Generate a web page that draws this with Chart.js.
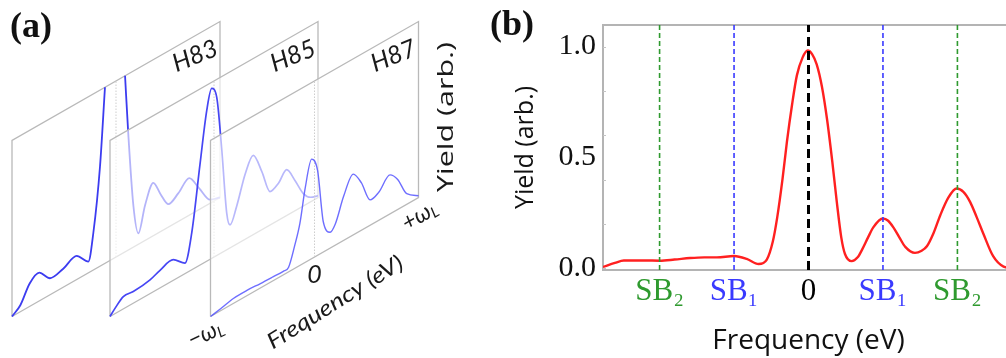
<!DOCTYPE html>
<html>
<head>
<meta charset="utf-8">
<script src="https://cdn.jsdelivr.net/npm/chart.js@4.4.1/dist/chart.umd.min.js"></script>
<style>
  html, body { margin: 0; padding: 0; background: #fff; width: 1006px; height: 358px; overflow: hidden; }
  .panel { position: absolute; top: 0; }
  .tag { position: absolute; font: bold 36px "Liberation Serif", serif; line-height: 1; color: #111; }
</style>
</head>
<body>
<div class="panel" style="left:0"><canvas id="chartA" width="470" height="358"></canvas></div>
<div class="panel" style="left:490px"><canvas id="chartB" width="530" height="358"></canvas></div>
<div class="tag" style="left:10px;top:7px">(a)</div>
<div class="tag" style="left:490px;top:5px">(b)</div>
<script>
// ---- panel (a): one spectrum per harmonic, u = frequency (-wL..+wL), v = yield (0..1 of plane height)
const harmonics = ['H83', 'H85', 'H87'];
const uH83 = [-1, -0.92, -0.83, -0.737, -0.635, -0.507, -0.378, -0.266, -0.218, -0.154, -0.106, 0, 0.087, 0.118, 0.167, 0.215, 0.279, 0.359, 0.43, 0.503, 0.6, 0.705, 0.8, 0.904, 1];
const vH83 = [0, 0.037, 0.13, 0.16, 0.094, 0.105, 0.134, 0.064, 0.21, 0.565, 1.0, null, 1.0, 0.66, 0.236, 0.062, 0.199, 0.30, 0.21, 0.13, 0.16, 0.21, 0.12, 0.02, 0];
const uH85 = [-1, -0.952, -0.872, -0.776, -0.615, -0.519, -0.391, -0.279, -0.214, -0.135, -0.07, -0.022, 0.026, 0.074, 0.122, 0.154, 0.218, 0.30, 0.378, 0.46, 0.538, 0.62, 0.699, 0.78, 0.859, 0.93, 1];
const vH85 = [0, 0.03, 0.07, 0.066, 0.078, 0.10, 0.117, 0.06, 0.21, 0.57, 0.855, 0.965, 0.9, 0.59, 0.21, 0.13, 0.215, 0.37, 0.45, 0.33, 0.19, 0.21, 0.26, 0.17, 0.07, 0.025, 0.01];
const uH87 = [-1, -0.9, -0.78, -0.65, -0.52, -0.40, -0.30, -0.25, -0.19, -0.14, -0.09, -0.027, 0.03, 0.085, 0.15, 0.2, 0.28, 0.373, 0.45, 0.534, 0.62, 0.726, 0.8, 0.887, 1];
const vH87 = [0, 0.012, 0.028, 0.03, 0.025, 0.022, 0.02, 0.025, 0.13, 0.24, 0.42, 0.565, 0.48, 0.17, 0.09, 0.12, 0.25, 0.345, 0.27, 0.144, 0.16, 0.221, 0.17, 0.06, 0.01];
const planeU = [uH83, uH85, uH87];
const planeV = [vH83, vH85, vH87];

// ---- panel (b): sideband spectrum
const freq = [-2.76, -2.6, -2.48, -2.2, -2.0, -1.8, -1.59, -1.4, -1.23, -1.0, -0.83, -0.67, -0.56, -0.48, -0.42, -0.35, -0.29, -0.22, -0.156, -0.08, -0.01, 0.05, 0.11, 0.18, 0.25, 0.32, 0.38, 0.44, 0.49, 0.58, 0.66, 0.72, 0.8, 0.87, 1.0, 1.07, 1.14, 1.22, 1.30, 1.43, 1.52, 1.59, 1.68, 1.77, 1.88, 1.99, 2.08, 2.17, 2.26, 2.35, 2.48, 2.62, 2.76];
const yieldB = [0.007, 0.025, 0.036, 0.036, 0.035, 0.04, 0.047, 0.05, 0.05, 0.056, 0.043, 0.02, 0.04, 0.12, 0.23, 0.40, 0.57, 0.74, 0.87, 0.95, 0.982, 0.965, 0.92, 0.82, 0.67, 0.48, 0.30, 0.14, 0.065, 0.033, 0.05, 0.085, 0.14, 0.185, 0.225, 0.215, 0.185, 0.14, 0.097, 0.07, 0.08, 0.10, 0.16, 0.24, 0.32, 0.36, 0.345, 0.30, 0.23, 0.155, 0.055, 0.008, 0.0];
const sbPos = [-2, -1, 0, 1, 2];
const sbLabels = ['SB₂', 'SB₁', '0', 'SB₁', 'SB₂'];
const sbColors = ['#2f9a2f', '#3a3aff', '#000000', '#3a3aff', '#2f9a2f'];
const yTicks = [0, 0.5, 1.0];
const yMinor = [0, 0.2, 0.4, 0.6, 0.8, 1.0];

// oblique projection of the planes in panel (a)
const PLANE_X = [12, 110, 210.5];
const HALF_W = 104, HALF_RISE = 59.5, PLANE_H = 176, BASE_Y = 316.5;
function proj(k, u, v) {
  return { x: PLANE_X[k] + (u + 1) * HALF_W, y: BASE_Y - (u + 1) * HALF_RISE - v * PLANE_H };
}

const curveStyle = [
  { color: '#3c3cf0', width: 1.8 },
  { color: '#4646f4', width: 1.7 },
  { color: 'rgba(85,85,255,0.85)', width: 1.4 }
];

function planeDatasets() {
  const sets = [];
  harmonics.forEach((h, k) => {
    const base = 10 - 3 * k;
    sets.push({
      data: [[-1, 0], [1, 0], [1, 1], [-1, 1], [-1, 0]].map(([u, v]) => proj(k, u, v)),
      showLine: true, pointRadius: 0, tension: 0,
      borderColor: '#b9b9b9', borderWidth: 1.3,
      fill: 'shape', backgroundColor: 'rgba(255,255,255,0.62)',
      order: base
    });
    sets.push({
      data: [proj(k, 0, 0), proj(k, 0, 1)],
      showLine: true, pointRadius: 0,
      borderColor: '#cdcdcd', borderWidth: 1, borderDash: [1.5, 1.5],
      order: base - 1
    });
    sets.push({
      data: planeU[k].map((u, i) => planeV[k][i] === null ? { x: proj(k, u, 0).x, y: null } : proj(k, u, planeV[k][i])),
      showLine: true, pointRadius: 0, cubicInterpolationMode: 'monotone',
      borderColor: curveStyle[k].color, borderWidth: curveStyle[k].width,
      order: base - 2
    });
  });
  return sets;
}

// text drawn along the planes, in chart units -> pixels
function drawRich(ctx, parts, cx, cy, deg, len) {
  ctx.save();
  ctx.translate(cx, cy);
  ctx.rotate(deg * Math.PI / 180);
  let w = 0;
  parts.forEach(p => { ctx.font = p.font; p.w = ctx.measureText(p.t).width; w += p.w; });
  if (len) ctx.scale(len / w, 1);
  let xx = -w / 2;
  ctx.textAlign = 'left';
  ctx.textBaseline = 'middle';
  parts.forEach(p => { ctx.font = p.font; ctx.fillText(p.t, xx, p.dy || 0); xx += p.w; });
  ctx.restore();
}

const planeLabels = {
  id: 'planeLabels',
  afterDatasetsDraw(chart) {
    const { ctx, scales: { x, y } } = chart;
    const at = (k, u, v, dx, dy) => {
      const p = proj(k, u, v);
      return [x.getPixelForValue(p.x) + dx, y.getPixelForValue(p.y) + dy];
    };
    ctx.save();
    ctx.fillStyle = '#1a1a1a';
    harmonics.forEach((h, k) => {
      const [a, b] = at(k, 0.76, 0.885, 0, 0);
      drawRich(ctx, [{ t: h, font: 'italic 25px Lato' }], a, b, -22);
    });
    let [a, b] = at(2, -1, 0, -5, 17);
    drawRich(ctx, [{ t: '−ω', font: 'italic 23px Lato' }, { t: 'L', font: 'italic 15px Lato', dy: 5 }], a, b, -25);
    [a, b] = at(2, 0, 0, 0, 18);
    drawRich(ctx, [{ t: '0', font: 'italic 25px Lato' }], a, b, 0);
    [a, b] = at(2, 1, 0, 1, 18);
    drawRich(ctx, [{ t: '+ω', font: 'italic 23px Lato' }, { t: 'L', font: 'italic 15px Lato', dy: 5 }], a, b, -30);
    [a, b] = at(2, 0.16, 0, 4, 55);
    drawRich(ctx, [{ t: 'Frequency (eV)', font: 'italic 22px Lato' }], a, b, -32, 156);
    drawRich(ctx, [{ t: 'Yield (arb.)', font: '22px "Open Sans"' }], 447, 117, -90, 150);
    ctx.restore();
  }
};

new Chart(document.getElementById('chartA'), {
  type: 'scatter',
  data: { datasets: planeDatasets() },
  options: {
    responsive: false, animation: false, events: [],
    layout: { padding: 0 },
    plugins: { legend: { display: false }, tooltip: { enabled: false } },
    scales: {
      x: { type: 'linear', display: false, min: 0, max: 470 },
      y: { type: 'linear', display: false, min: 0, max: 358, reverse: true }
    }
  },
  plugins: [planeLabels]
});

// ---- panel (b)
const Y_MIN = -0.007, Y_MAX = 1.097;

const frame = {
  id: 'frame',
  beforeDatasetsDraw(chart) {
    const { ctx, chartArea: c, scales: { y } } = chart;
    ctx.save();
    ctx.strokeStyle = '#b4b4b4';
    ctx.lineWidth = 2;
    ctx.strokeRect(c.left, c.top, c.right - c.left, c.bottom - c.top);
    ctx.lineWidth = 1;
    ctx.strokeStyle = '#c4c4c4';
    yMinor.forEach(v => {
      const py = Math.round(y.getPixelForValue(v)) + 0.5;
      ctx.beginPath(); ctx.moveTo(c.left, py); ctx.lineTo(c.left + 3, py); ctx.stroke();
    });
    ctx.restore();
  }
};

new Chart(document.getElementById('chartB'), {
  type: 'scatter',
  data: {
    datasets: [
      ...sbPos.map((p, i) => ({
        data: [{ x: p, y: Y_MIN }, { x: p, y: Y_MAX }],
        showLine: true, pointRadius: 0,
        borderColor: sbColors[i],
        borderWidth: p === 0 ? 3 : 1.6,
        borderDash: p === 0 ? [9, 5] : [5, 3],
        order: 0
      })),
      {
        data: freq.map((f, i) => ({ x: f, y: yieldB[i] })),
        showLine: true, pointRadius: 0,
        borderColor: '#ff2020', borderWidth: 2.4,
        cubicInterpolationMode: 'monotone',
        order: 1
      }
    ]
  },
  options: {
    responsive: false, animation: false, events: [],
    layout: { padding: { top: 19, right: 6, left: 0, bottom: 0 } },
    plugins: { legend: { display: false }, tooltip: { enabled: false } },
    scales: {
      x: {
        type: 'linear', min: -2.76, max: 2.76,
        afterBuildTicks: s => { s.ticks = sbPos.map(v => ({ value: v })); },
        afterFit: s => { s.height = 88; },
        ticks: {
          callback: (v, i) => sbLabels[i],
          color: c => sbColors[c.index],
          font: { family: 'Liberation Serif', size: 31 },
          padding: 3, maxRotation: 0, autoSkip: false
        },
        grid: { display: false, drawTicks: false },
        border: { display: false },
        title: {
          display: true, text: 'Frequency (eV)', color: '#111',
          font: { family: 'Open Sans', size: 28 }, padding: { top: 0, bottom: 0 }
        }
      },
      y: {
        type: 'linear', min: Y_MIN, max: Y_MAX,
        afterBuildTicks: s => { s.ticks = yTicks.map(v => ({ value: v })); },
        afterFit: s => { s.width = 113; },
        ticks: {
          callback: v => v.toFixed(1),
          color: '#111',
          font: { family: 'Liberation Serif', size: 30 },
          padding: 7
        },
        grid: { display: false, drawTicks: false },
        border: { display: false },
        title: {
          display: true, text: 'Yield (arb.)', color: '#111',
          font: { family: 'Open Sans', size: 25 }, padding: { top: 21, bottom: 0 }
        }
      }
    }
  },
  plugins: [frame]
});
</script>
</body>
</html>
